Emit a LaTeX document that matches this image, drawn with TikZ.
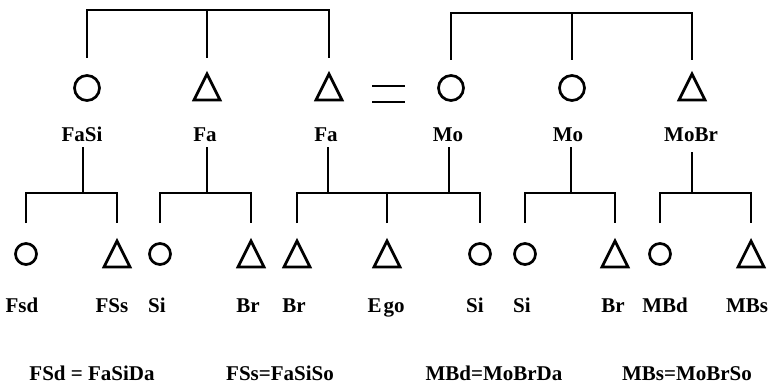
\documentclass[tikz,border=0pt]{standalone}
\usepackage{fontspec}
\setmainfont{Liberation Serif}
\newcommand\Tri[2]{\node[trinode] (#1) at (#2) {};
  \draw[sym] (#1.south west) -- (#1.north) -- (#1.south east) -- cycle;}
\begin{document}
\begin{tikzpicture}[x=1pt,y=-1pt,
  ln/.style={line width=2.7pt, line join=miter},
  sym/.style={line width=2.7pt},
  circA/.style={circle, draw, sym, minimum size=25pt, inner sep=0pt},
  circB/.style={circle, draw, sym, minimum size=21pt, inner sep=0pt},
  trinode/.style={rectangle, inner sep=0pt, outer sep=0pt, minimum width=26pt, minimum height=26pt},
  lbl/.style={anchor=base, inner sep=2pt, font=\fontsize{21}{24}\selectfont\bfseries},
  eqbox/.style={rectangle, inner sep=0pt, outer sep=0pt, minimum width=33pt, minimum height=16pt},
]
\useasboundingbox (0,0) rectangle (771,385);

% ---- first generation symbols
\node[circA] (fasi) at (87,88) {};
\Tri{fa1}{207,87}
\Tri{fa2}{329,87}
\node[circA] (mo1) at (451,88) {};
\node[circA] (mo2) at (572,88) {};
\Tri{mobr}{692,87}

% marriage sign
\node[eqbox] (eq) at (388.5,94) {};
\draw[ln] (eq.north west) -- (eq.north east);
\draw[ln] (eq.south west) -- (eq.south east);

% ---- top sibling brackets
\coordinate (r1a) at (0,58);
\coordinate (r1b) at (0,60);
\coordinate (tL) at (207,10);
\coordinate (tR) at (572,13);
\draw[ln] (fasi |- r1a) |- (tL) -| (fa2 |- r1a);
\draw[ln] (tL) -- (fa1 |- r1a);
\draw[ln] (mo1 |- r1b) |- (tR) -| (mobr |- r1b);
\draw[ln] (tR) -- (mo2 |- r1b);

% ---- first generation labels
\node[lbl] (lfasi) at (82,142) {FaSi};
\node[lbl] (lfa1) at (205,142) {Fa};
\node[lbl] (lfa2) at (326,142) {Fa};
\node[lbl] (lmo1) at (448,142) {Mo};
\node[lbl] (lmo2) at (568,142) {Mo};
\node[lbl] (lmobr) at (691,142) {MoBr};

% ---- junctions of lower brackets
\coordinate (j1) at (83,193);
\coordinate (j2) at (207,193);
\coordinate (j3) at (328,193);
\coordinate (j4) at (449,193);
\coordinate (j5) at (571,193);
\coordinate (j6) at (692,193);
\draw[ln, shorten <=3pt] (j1 |- lfasi.south) -- (j1);
\draw[ln, shorten <=3pt] (j2 |- lfa1.south) -- (j2);
\draw[ln, shorten <=3pt] (j3 |- lfa2.south) -- (j3);
\draw[ln, shorten <=3pt] (j4 |- lmo1.south) -- (j4);
\draw[ln, shorten <=3pt] (j5 |- lmo2.south) -- (j5);
\draw[ln, shorten <=8pt] (j6 |- lmobr.south) -- (j6);

% ---- second generation symbols
\node[circB] (fsd) at (26,254) {};
\Tri{fss}{117,254}
\node[circB] (si1) at (160,254) {};
\Tri{br1}{251,254}
\Tri{br2}{297,254}
\Tri{ego}{387,254}
\node[circB] (si2) at (480,254) {};
\node[circB] (si3) at (525,254) {};
\Tri{br3}{615,254}
\node[circB] (mbd) at (660,254) {};
\Tri{mbs}{751,254}

% ---- lower sibling brackets
\coordinate (r2) at (0,223);
\draw[ln] (fsd |- r2) |- (j1) -| (fss |- r2);
\draw[ln] (si1 |- r2) |- (j2) -| (br1 |- r2);
\draw[ln] (br2 |- r2) |- (j3) -- (j4) -| (si2 |- r2);
\draw[ln] (ego |- r2) -- (ego |- j3);
\draw[ln] (si3 |- r2) |- (j5) -| (br3 |- r2);
\draw[ln] (mbd |- r2) |- (j6) -| (mbs |- r2);

% ---- second generation labels
\node[lbl] (lfsd) at (22,312) {Fsd};
\node[lbl] (lfss) at (112,312) {FSs};
\node[lbl] (lsi1) at (157,312) {Si};
\node[lbl] (lbr1) at (248,312) {Br};
\node[lbl] (lbr2) at (294,312) {Br};
\node[lbl] (lego) at (386,312) {E\kern2pt go};
\node[lbl] (lsi2) at (475,312) {Si};
\node[lbl] (lsi3) at (522,312) {Si};
\node[lbl] (lbr3) at (613,312) {Br};
\node[lbl] (lmbd) at (665,312) {MBd};
\node[lbl] (lmbs) at (747,312) {MBs};

% ---- legend
\node[lbl] (k1) at (92,380) {FSd = FaSiDa};
\node[lbl] (k2) at (280,380) {FSs=FaSiSo};
\node[lbl] (k3) at (494,380) {MBd=MoBrDa};
\node[lbl] (k4) at (687,380) {MBs=MoBrSo};
\end{tikzpicture}
\end{document}
